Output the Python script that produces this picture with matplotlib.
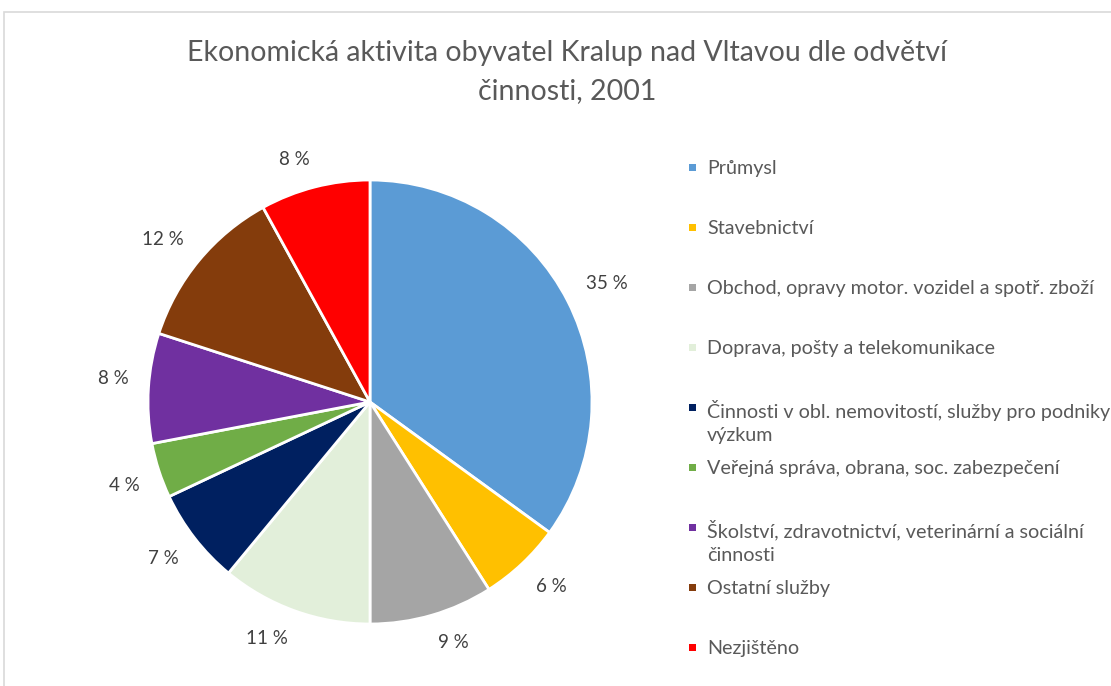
import matplotlib
matplotlib.use("Agg")
import numpy as np
import matplotlib.pyplot as plt
from matplotlib.patches import Rectangle

categories = [
    "Průmysl",
    "Stavebnictví",
    "Obchod, opravy motor. vozidel a spotř. zboží",
    "Doprava, pošty a telekomunikace",
    "Činnosti v obl. nemovitostí, služby pro podniky,\nvýzkum",
    "Veřejná správa, obrana, soc. zabezpečení",
    "Školství, zdravotnictví, veterinární a sociální\nčinnosti",
    "Ostatní služby",
    "Nezjištěno",
]
values = [35, 6, 9, 11, 7, 4, 8, 12, 8]
colors = ["#5B9BD5", "#FFC000", "#A5A5A5", "#E2EFDA", "#002060",
          "#70AD47", "#7030A0", "#843C0C", "#FF0000"]
title = "Ekonomická aktivita obyvatel Kralup nad Vltavou dle odvětví\nčinnosti, 2001"

W, H = 1111, 686
fig = plt.figure(figsize=(W / 100, H / 100), dpi=100)
fig.patch.set_facecolor("white")
plt.rcParams["font.family"] = ["Lato", "DejaVu Sans"]

# chart border (cropped at right/bottom)
fig.patches.append(Rectangle((4 / W, -0.05), 1.1, 1 - 12 / H + 0.05,
                             transform=fig.transFigure, fill=False,
                             edgecolor="#D9D9D9", linewidth=1.2))

cx, cy, r = 370, 402, 222
ax = fig.add_axes([(cx - r) / W, (H - cy - r) / H, 2 * r / W, 2 * r / H])
wedges, _ = ax.pie(
    values, colors=colors, startangle=90, counterclock=False,
    wedgeprops=dict(edgecolor="white", linewidth=2))
ax.set_xlim(-1, 1)
ax.set_ylim(-1, 1)
ax.set_aspect("equal")
ax.axis("off")

# outside-end data labels (Excel style: nearest corner of label on the ray)
total = sum(values)
for w, v in zip(wedges, values):
    ang = np.deg2rad((w.theta1 + w.theta2) / 2)
    c, s = np.cos(ang), np.sin(ang)
    d = 1.09
    ax.text(d * c, d * s, f"{round(100 * v / total)} %",
            ha="left" if c >= 0 else "right",
            va="bottom" if s >= 0 else "top",
            fontsize=13.5, color="#404040", clip_on=False)

fig.text(567 / W, 1 - 72 / H, title, ha="center", va="center",
         fontsize=20.5, color="#595959", fontweight="normal", linespacing=1.58)

# legend
x_mark, x_text = 692, 707
y0, dy = 167, 60
for i, (lab, col) in enumerate(zip(categories, colors)):
    y = y0 + i * dy
    fig.patches.append(Rectangle(((x_mark - 3.5) / W, 1 - (y + 3.5) / H), 7 / W, 7 / H,
                                 transform=fig.transFigure, facecolor=col,
                                 edgecolor="none"))
    fig.text(x_text / W, 1 - (y - 7) / H, lab, ha="left", va="top",
             fontsize=14.2, color="#595959", linespacing=1.45)

fig.savefig("out.png", dpi=100)
